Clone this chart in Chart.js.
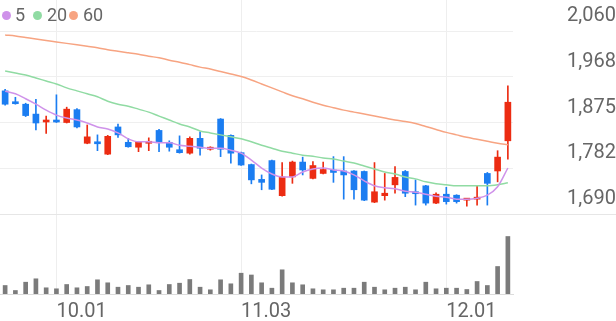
<!DOCTYPE html>
<html><head><meta charset="utf-8">
<script src="https://cdn.jsdelivr.net/npm/chart.js@4.4.1/dist/chart.umd.min.js"></script>
<style>
html,body{margin:0;padding:0;background:#fff;width:616px;height:321px;overflow:hidden;}
#wrap{position:relative;width:616px;height:321px;font-family:Roboto,sans-serif;}
#price{position:absolute;left:0;top:0;}
#vol{position:absolute;left:0;top:214px;}
.sep{position:absolute;left:0;width:616px;height:1px;background:#e6e6e6;}
.dot{position:absolute;width:9px;height:9px;border-radius:50%;top:11px;}
.lg{position:absolute;top:5px;font-size:18px;line-height:20px;color:#666;}
</style></head><body>
<div id="wrap">
<canvas id="price" width="616" height="216"></canvas>
<canvas id="vol" width="616" height="107"></canvas>
<div class="sep" style="top:214px"></div>
<div id="legend"></div>
</div>
<script>
// ---- data ----
const dates = ['09.24','09.25','09.26','09.29','09.30','10.01','10.02','10.10','10.13','10.14','10.15','10.16','10.17','10.20','10.21','10.22','10.23','10.24','10.27','10.28','10.29','10.30','10.31','11.03','11.04','11.05','11.06','11.07','11.10','11.11','11.12','11.13','11.14','11.17','11.18','11.19','11.20','11.21','11.24','11.25','11.26','11.27','11.28','12.01','12.02','12.03','12.04','12.05','12.08','12.09'];
const tickLabels = ['10.01','11.03','12.01'];
const open  = [1939,1916,1912,1892,1876,1880,1875,1901,1833,1836,1811,1866,1835,1825,1833,1859,1835,1820,1813,1843,1821,1882,1849,1814,1790,1760,1798,1727,1765,1795,1762,1772,1779,1777,1777,1776,1714,1727,1749,1776,1734,1747,1712,1730,1728,1718,1720,1772,1777,1838];
const high  = [1942,1926,1914,1922,1888,1931,1906,1903,1870,1850,1849,1872,1843,1837,1844,1861,1838,1848,1846,1856,1826,1883,1850,1815,1791,1769,1799,1794,1797,1805,1796,1795,1806,1806,1778,1777,1794,1772,1786,1778,1759,1748,1733,1744,1729,1721,1747,1774,1818,1949];
const low   = [1910,1912,1887,1860,1853,1875,1874,1864,1832,1818,1810,1845,1825,1816,1818,1816,1817,1813,1811,1809,1819,1806,1793,1788,1751,1739,1739,1726,1752,1769,1761,1771,1754,1720,1720,1717,1713,1718,1732,1725,1708,1708,1711,1710,1712,1706,1708,1708,1755,1801];
const close = [1912,1913,1889,1874,1880,1876,1902,1866,1846,1832,1847,1850,1826,1835,1836,1835,1825,1814,1843,1823,1825,1821,1813,1789,1759,1754,1740,1765,1795,1779,1788,1780,1774,1769,1739,1718,1735,1732,1764,1732,1731,1712,1730,1715,1715,1720,1722,1752,1805,1916];
const ma5   = [1938,1933,1923,1912,1900,1890,1884,1880,1874,1866,1862,1854,1842,1836,1836,1834,1834,1829,1827,1825,1823,1823,1819,1813,1799,1783,1771,1765,1765,1775,1781,1783,1779,1777,1769,1757,1747,1743,1741,1736,1734,1730,1726,1724,1720,1720,1722,1728,1745,1783];
const ma20  = [1979,1975,1971,1965,1959,1953,1945,1939,1933,1927,1918,1912,1908,1902,1896,1888,1880,1872,1866,1858,1854,1850,1846,1842,1836,1829,1823,1817,1813,1809,1807,1803,1801,1797,1793,1787,1781,1775,1771,1765,1761,1755,1751,1749,1747,1747,1747,1747,1749,1753];
const ma60  = [2052,2050,2047,2044,2041,2038,2035,2032,2029,2026,2022,2019,2016,2013,2009,2006,2001,1997,1992,1987,1983,1978,1973,1968,1961,1953,1945,1937,1929,1923,1916,1910,1905,1900,1896,1892,1888,1884,1880,1877,1873,1867,1861,1855,1850,1845,1841,1837,1833,1830];
const volume = [85,35,118,152,62,52,95,62,75,142,112,68,85,68,92,35,95,108,145,68,42,142,102,208,190,112,58,242,112,92,52,42,42,58,58,118,68,42,58,68,42,118,52,58,58,45,125,85,275,575];
const yTickValues = [1690,1782.5,1875,1967.5,2060];
const yTickLabels = ['1,690','1,782','1,875','1,968','2,060'];
const maNames = ['5','20','60'];
// ---- styles ----
const maColors = ['#cf92ea','#90dba3','#f7a482'];
const upColor = '#ec2c12', downColor = '#1b7df1';
const txt = '#666666';
const lgPos = [[2,15],[33,47],[69,83]];
const legend = document.getElementById('legend');
maNames.forEach((n,i)=>{
  const d=document.createElement('div'); d.className='dot'; d.style.left=lgPos[i][0]+'px'; d.style.background=maColors[i]; legend.appendChild(d);
  const s=document.createElement('div'); s.className='lg'; s.style.left=lgPos[i][1]+'px'; s.textContent=n; legend.appendChild(s);
});
const candleColors = open.map((o,i)=> close[i] > o ? upColor : downColor);
const markIdx = dates.map((d,i)=> tickLabels.includes(d) ? i : -1).filter(i=>i>=0);
const gridCol = ctx => markIdx.includes(ctx.index) ? '#eeeeee' : 'rgba(0,0,0,0)';
const font20 = {family:'Roboto', size:20};

new Chart(document.getElementById('price'), {
  type:'bar',
  data:{labels:dates, datasets:[
    {type:'line', data:ma5, borderColor:maColors[0], borderWidth:1.5, pointRadius:0, cubicInterpolationMode:'monotone', order:0},
    {type:'line', data:ma20, borderColor:maColors[1], borderWidth:1.5, pointRadius:0, cubicInterpolationMode:'monotone', order:0},
    {type:'line', data:ma60, borderColor:maColors[2], borderWidth:1.5, pointRadius:0, cubicInterpolationMode:'monotone', order:0},
    {data:low.map((l,i)=>[l,high[i]]), backgroundColor:candleColors, barThickness:1, grouped:false, order:2},
    {data:open.map((o,i)=>[o,close[i]]), backgroundColor:candleColors, barThickness:6, minBarLength:2, grouped:false, order:1}
  ]},
  options:{
    responsive:false, animation:false,
    layout:{padding:{left:0,right:0,top:0,bottom:2}},
    plugins:{legend:{display:false}, tooltip:{enabled:false}},
    scales:{
      x:{offset:true, grid:{offset:false, color:gridCol, drawTicks:false}, border:{display:false}, ticks:{display:false, autoSkip:false},
         afterFit:s=>{ s.height = 0; s.paddingLeft = 0; s.paddingRight = 0; }},
      y:{position:'right', min:1690, max:2122.7,
         afterBuildTicks:s=>{ s.ticks = yTickValues.map(v=>({value:v})); },
         afterFit:s=>{ s.width = 103; s.paddingTop = 0; s.paddingBottom = 0; },
         grid:{color:'#efefef', drawTicks:false}, border:{display:false},
         ticks:{callback:(v,i)=>yTickLabels[i], padding:48, crossAlign:'far', labelOffset:-15, font:font20, color:txt}}
    }
  }
});

new Chart(document.getElementById('vol'), {
  type:'bar',
  data:{labels:dates, datasets:[{data:volume, backgroundColor:'#7b7b7b', barThickness:4}]},
  options:{
    responsive:false, animation:false,
    layout:{padding:{left:0,right:103,top:0,bottom:0}},
    plugins:{legend:{display:false}, tooltip:{enabled:false}},
    scales:{
      x:{offset:true, grid:{offset:false, color:gridCol, drawTicks:false}, border:{display:true, color:'#dcdcdc'},
         afterFit:s=>{ s.height = 27; s.paddingLeft = 0; s.paddingRight = 0; },
         ticks:{autoSkip:false, maxRotation:0, minRotation:0, align:'start', padding:6, font:font20, color:txt,
                callback:(v,i)=> tickLabels.includes(dates[i]) ? dates[i] : ''}},
      y:{display:false, min:0, max:800}
    }
  }
});
</script>
</body></html>
